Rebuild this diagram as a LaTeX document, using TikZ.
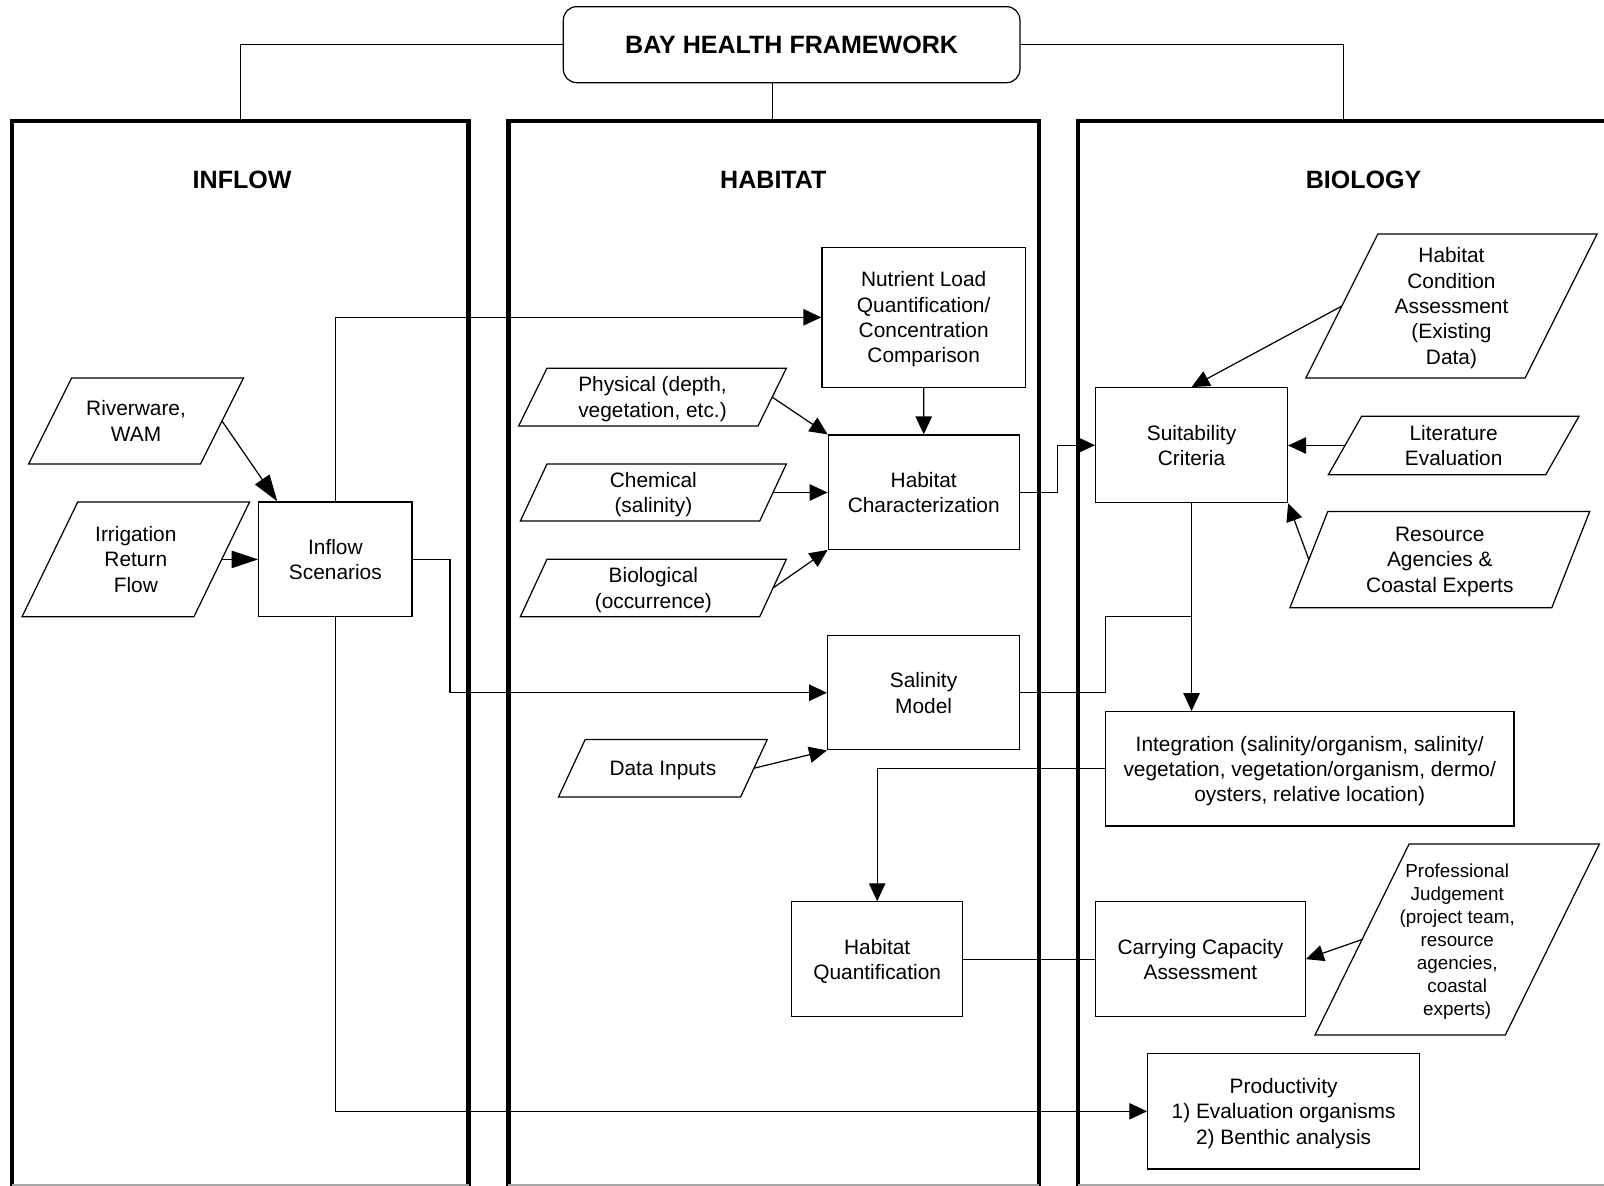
\documentclass[tikz,border=0pt]{standalone}
\usepackage{fontspec}
\setmainfont{Liberation Sans}
\usetikzlibrary{arrows.meta,calc}
\newcommand\bodyfont{\fontsize{20.4pt}{24.8pt}\selectfont}
\newcommand\pjfont{\fontsize{18.4pt}{22.5pt}\selectfont}
\newcommand\headfont{\fontsize{24.5pt}{29pt}\selectfont\bfseries}
% #1 name, #2 ytop, #3 ybot, #4 x top-left, #5 x bottom-left, #6 width, #7 extra style, #8 text
\newcommand\mkpara[8]{%
  \coordinate (#1-tl) at (#4,#2);
  \coordinate (#1-tr) at ({#4+#6},#2);
  \coordinate (#1-br) at ({#5+#6},#3);
  \coordinate (#1-bl) at (#5,#3);
  \draw[conn] (#1-tl) -- (#1-tr) -- (#1-br) -- (#1-bl) -- cycle;
  \coordinate (#1-e) at ($(#1-tr)!0.5!(#1-br)$);
  \coordinate (#1-w) at ($(#1-tl)!0.5!(#1-bl)$);
  \node[txt,#7] (#1) at ($(#1-tl)!0.5!(#1-br)$) {#8};
}
\begin{document}
\begin{tikzpicture}[x=1pt,y=-1pt,
  box/.style={draw, line width=1.2pt, inner sep=0pt, align=center, font=\bodyfont, text depth=0pt},
  txt/.style={inner sep=0pt, align=center, font=\bodyfont, text depth=0pt},
  head/.style={inner sep=0pt, font=\headfont},
  conn/.style={line width=1.2pt, line join=miter},
  arr/.style={line width=1.2pt, -{Triangle[length=17.5pt,width=16pt]}},
  bigarr/.style={line width=1.2pt, -{Triangle[length=26pt,width=17pt]}},
  colline/.style={line width=4.2pt, line join=miter},
  colbottom/.style={line width=1.2pt, draw=black!35}]
\useasboundingbox (0,0) rectangle (1568,1159);

% columns
\draw[colline] (12,1160) -- (12,118.3) -- (458,118.3) -- (458,1160);
\draw[colline] (497,1160) -- (497,118.3) -- (1015.7,118.3) -- (1015.7,1160);
\draw[colline] (1053.5,1160) -- (1053.5,118.3) -- (1570,118.3);
\draw[colbottom] (12,1158.4) -- (458,1158.4);
\draw[colbottom] (497,1158.4) -- (1015.7,1158.4);
\draw[colbottom] (1053.5,1158.4) -- (1568,1158.4);

\coordinate (ctop1) at (235,118.3);
\coordinate (ctop2) at (755.3,118.3);
\coordinate (ctop3) at (1313.6,118.3);

% title
\node[box, rounded corners=13pt, minimum width=446.3pt, minimum height=74.3pt, font=\headfont]
  (title) at (773.85,43.65) {BAY HEALTH FRAMEWORK};
\draw[conn] (title.west) -| (ctop1);
\draw[conn] (title.east) -| (ctop3);
\draw[conn] ([xshift=-18.55pt]title.south) -- (ctop2);

% headings
\node[head] (hinflow) at (236.7,176) {INFLOW};
\node[head] (hhabitat) at (756,176) {HABITAT};
\node[head] (hbiology) at (1333,176) {BIOLOGY};

% INFLOW column
\mkpara{river}{369.5}{453.6}{70}{28}{168}{}{Riverware,\\WAM}
\mkpara{irrig}{490.7}{603}{76}{21.5}{168}{}{Irrigation\\Return\\Flow}
\node[box, minimum width=149.7pt, minimum height=112.3pt] (inflow) at (327.85,546.85) {Inflow\\Scenarios};
\draw[bigarr] (river-e) -- ([xshift=18.7pt]inflow.north west);
\draw[bigarr] (irrig-e) -- (irrig-e -| inflow.west);

% HABITAT column
\node[box, minimum width=198.9pt, minimum height=136.8pt] (nutrient) at (902.95,310.2)
  {Nutrient Load\\Quantification/\\Concentration\\Comparison};
\node[box, minimum width=186.8pt, minimum height=111.8pt] (hc) at (903,481.1)
  {Habitat\\Characterization};
\node[box, minimum width=187.7pt, minimum height=111.6pt] (salinity) at (902.85,677.2)
  {Salinity\\Model};
\node[box, minimum width=167pt, minimum height=112pt] (hq) at (857.5,937.6)
  {Habitat\\Quantification};
\mkpara{phys}{360}{416.4}{534.7}{507}{234}{}{Physical (depth,\\vegetation, etc.)}
\mkpara{chem}{453.6}{509.3}{534.7}{508.7}{234}{}{Chemical\\(salinity)}
\mkpara{bio}{546.7}{602.8}{534.7}{508.7}{234}{}{Biological\\(occurrence)}
\mkpara{data}{723}{779}{572}{546}{178}{}{Data Inputs}

\draw[arr] (nutrient.south) -- (hc.north);
\draw[arr] (phys-e) -- (hc.north west);
\draw[arr] (chem-e) -- (chem-e -| hc.west);
\draw[arr] (bio-e) -- (hc.south west);
\draw[arr] (data-e) -- (salinity.south west);

% BIOLOGY column
\node[box, minimum width=187.6pt, minimum height=112.4pt] (sc) at (1164.8,435.2)
  {Suitability\\Criteria};
\node[box, minimum width=399.4pt, minimum height=111.7pt] (integ) at (1280.3,751.55)
  {Integration (salinity/organism, salinity/\\vegetation, vegetation/organism, dermo/\\oysters, relative location)};
\node[box, minimum width=205pt, minimum height=112.3pt] (cca) at (1173.5,937.6)
  {Carrying Capacity\\Assessment};
\node[box, minimum width=265.6pt, minimum height=112.7pt] (prod) at (1254.8,1086.35)
  {Productivity\\1) Evaluation organisms\\2) Benthic analysis};
\mkpara{hca}{228.7}{369.6}{1347}{1276.5}{214.3}{}{Habitat\\Condition\\Assessment\\(Existing\\Data)}
\mkpara{lit}{407}{464}{1331}{1298.6}{212.5}{}{Literature\\Evaluation}
\mkpara{ra}{500}{594}{1298}{1261}{256}{}{Resource\\Agencies \&\\Coastal Experts}
\mkpara{pj}{825}{1011.8}{1377.5}{1285.5}{186}{font=\pjfont}{Professional\\Judgement\\(project team,\\resource\\agencies,\\coastal\\experts)}

\draw[arr] (hca-w) -- (sc.north);
\draw[arr] (lit-w) -- (lit-w -| sc.east);
\draw[arr] (ra-w) -- (sc.south east);
\draw[arr] (pj-w) -- (cca.east);

% connectors across columns
\draw[arr] (inflow.north) |- (nutrient.west);
\draw[arr] (inflow.east) -- ++(36.5,0) |- (salinity.west);
\draw[arr] (inflow.south) |- (prod.west);
\draw[arr] (hc.east) -- ++(37,0) |- (sc.west);
\coordinate (junc) at (1164.8,602.8);
\draw[conn] (salinity.east) -- ++(83.5,0) |- (junc);
\draw[arr] (sc.south) -- (sc.south |- integ.north);
\draw[arr] (integ.west) -| (hq.north);
\draw[conn] (hq.east) -- (hq.east -| cca.west);
\end{tikzpicture}
\end{document}
